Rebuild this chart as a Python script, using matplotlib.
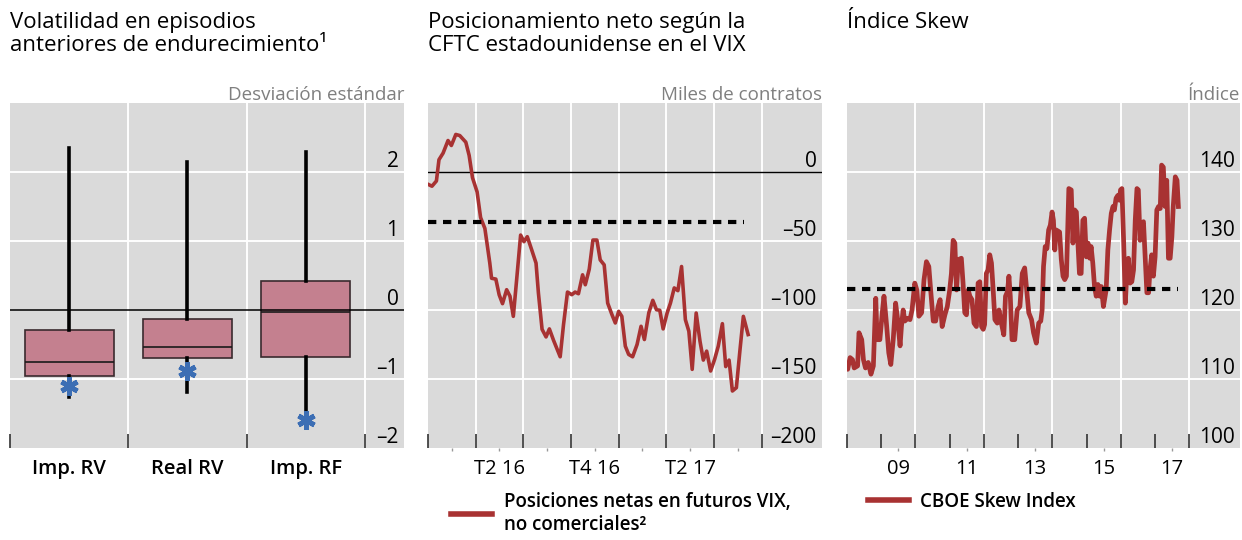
import numpy as np
import matplotlib
matplotlib.use('Agg')
import matplotlib.pyplot as plt

plt.rcParams['font.family'] = ['Open Sans', 'DejaVu Sans']

# ---------------------------------------------------------------
# Data
# Panel 1: distribution of volatility in earlier tightening episodes
categories = ['Imp. RV', 'Real RV', 'Imp. RF']
whis_low = [-1.26, -1.19, -1.55]
q1 = [-0.96, -0.70, -0.68]
median = [-0.76, -0.54, -0.03]
q3 = [-0.29, -0.13, 0.42]
whis_high = [2.35, 2.14, 2.29]
current = [-1.10, -0.89, -1.59]

# Panel 2: CFTC net positions in VIX futures (months since Jan 2016, thousands)
vix_month = [0.0, 0.25, 0.53, 0.69, 0.95, 1.26, 1.47, 1.75, 2.0, 2.38, 2.59, 2.8,
             3.09, 3.31, 3.58, 3.89, 4.0, 4.27, 4.48, 4.69, 4.95, 5.16, 5.37, 5.58,
             5.83, 6.04, 6.25, 6.53, 6.8, 6.95, 7.18, 7.43, 7.64, 7.9, 8.32, 8.53,
             8.78, 9.05, 9.26, 9.47, 9.73, 9.9, 10.15, 10.38, 10.63, 10.84, 11.09,
             11.31, 11.58, 11.79, 12.0, 12.2, 12.42, 12.63, 12.88, 13.16, 13.41,
             13.62, 13.9, 14.15, 14.38, 14.59, 14.8, 15.05, 15.26, 15.5, 15.73,
             15.96, 16.2, 16.42, 16.63, 16.88, 17.12, 17.33, 17.54, 17.79, 18.04,
             18.27, 18.53, 18.74, 18.95, 19.16, 19.41, 19.64, 19.85, 20.15]
vix_net = [-8.9, -10.3, -6.5, 8.9, 13.7, 22.8, 19.2, 27.2, 26.4, 21.6, 12.0, -4.1,
           -14.4, -33.0, -40.9, -66.0, -77.0, -77.6, -89.0, -95.4, -85.3, -90.0,
           -104.6, -78.0, -45.7, -50.5, -46.9, -56.5, -66.0, -87.7, -114.0, -119.5,
           -113.7, -121.9, -133.9, -110.6, -87.0, -88.9, -87.0, -88.2, -74.5, -81.7,
           -70.4, -49.3, -49.3, -63.7, -67.3, -95.0, -103.4, -109.4, -101.0, -104.6,
           -126.2, -132.2, -133.9, -125.0, -111.8, -121.4, -102.0, -93.0, -99.8,
           -100.2, -113.7, -102.2, -95.0, -84.0, -86.0, -68.5, -107.0, -115.4,
           -143.0, -102.2, -122.6, -136.3, -129.8, -144.2, -135.8, -126.2, -109.9,
           -141.0, -136.3, -158.7, -156.3, -128.6, -104.6, -117.8]
vix_avg = -36

# Panel 3: CBOE Skew index
skew_year = [2008.00, 2008.02, 2008.09, 2008.16, 2008.21, 2008.31, 2008.35, 2008.43,
             2008.48, 2008.54, 2008.62, 2008.70, 2008.77, 2008.84, 2008.88, 2008.96,
             2009.03, 2009.08, 2009.16, 2009.22, 2009.28, 2009.35, 2009.42, 2009.48,
             2009.55, 2009.59, 2009.64, 2009.69, 2009.77, 2009.84, 2009.90, 2009.98,
             2010.04, 2010.10, 2010.18, 2010.25, 2010.32, 2010.39, 2010.45, 2010.52,
             2010.59, 2010.66, 2010.72, 2010.78, 2010.86, 2010.93, 2011.00, 2011.05,
             2011.10, 2011.15, 2011.20, 2011.25, 2011.34, 2011.39, 2011.44, 2011.49,
             2011.54, 2011.59, 2011.65, 2011.71, 2011.78, 2011.83, 2011.88, 2011.93,
             2011.98, 2012.02, 2012.07, 2012.12, 2012.17, 2012.22, 2012.27, 2012.32,
             2012.39, 2012.44, 2012.51, 2012.58, 2012.63, 2012.69, 2012.73, 2012.77,
             2012.82, 2012.90, 2012.97, 2013.05, 2013.12, 2013.19, 2013.24, 2013.31,
             2013.39, 2013.45, 2013.53, 2013.60, 2013.66, 2013.70, 2013.74, 2013.79,
             2013.84, 2013.89, 2013.94, 2013.99, 2014.03, 2014.07, 2014.11, 2014.21,
             2014.26, 2014.31, 2014.36, 2014.41, 2014.45, 2014.48, 2014.55, 2014.60,
             2014.65, 2014.70, 2014.74, 2014.79, 2014.84, 2014.89, 2014.94, 2014.99,
             2015.04, 2015.09, 2015.13, 2015.18, 2015.23, 2015.28, 2015.33, 2015.38,
             2015.43, 2015.49, 2015.57, 2015.62, 2015.67, 2015.72, 2015.77, 2015.81,
             2015.86, 2015.91, 2015.96, 2015.99, 2016.03, 2016.08, 2016.13, 2016.17,
             2016.22, 2016.27, 2016.32, 2016.37, 2016.42, 2016.47, 2016.51, 2016.56,
             2016.61, 2016.66, 2016.71, 2016.76, 2016.81, 2016.85, 2016.90, 2016.95,
             2017.00, 2017.05, 2017.10, 2017.15, 2017.19, 2017.24, 2017.29, 2017.34,
             2017.39, 2017.44, 2017.49, 2017.53, 2017.59, 2017.64, 2017.68]
skew_val = [111.6, 111.4, 113.1, 112.8, 111.6, 111.9, 116.7, 115.7, 112.8, 111.6,
            112.4, 110.7, 111.9, 121.7, 115.7, 115.7, 119.6, 122.0, 117.6, 113.8,
            112.1, 115.7, 121.0, 118.6, 114.8, 117.6, 120.0, 118.4, 118.8, 118.6,
            120.0, 123.9, 122.9, 119.1, 119.6, 124.4, 127.0, 126.3, 122.5, 118.4,
            118.4, 120.5, 121.5, 117.6, 119.3, 120.5, 122.9, 125.3, 130.1, 129.7,
            122.9, 127.3, 127.5, 123.9, 119.6, 119.3, 122.9, 122.0, 121.5, 118.1,
            117.6, 123.9, 124.1, 117.6, 117.2, 117.9, 125.3, 125.8, 128.0, 126.8,
            122.9, 118.6, 118.1, 120.0, 118.1, 116.4, 122.0, 122.7, 124.9, 122.0,
            115.7, 115.7, 120.0, 120.5, 125.3, 126.1, 123.4, 119.6, 118.6, 116.7,
            115.2, 118.1, 118.4, 120.0, 126.3, 129.2, 128.9, 131.6, 132.3, 134.2,
            133.0, 128.7, 131.6, 131.3, 127.3, 124.9, 124.4, 124.9, 132.5, 137.6,
            137.4, 129.7, 134.5, 134.2, 130.1, 125.3, 125.3, 133.0, 133.3, 127.7,
            129.7, 127.5, 129.2, 126.8, 123.4, 122.0, 123.7, 122.0, 123.4, 120.5,
            122.9, 128.7, 131.6, 134.0, 135.0, 134.5, 136.2, 136.6, 135.9, 137.4,
            137.6, 130.1, 121.0, 124.9, 127.5, 123.9, 124.1, 125.8, 133.0, 137.6,
            137.4, 130.1, 132.5, 132.8, 127.7, 122.5, 122.5, 125.8, 128.0, 124.9,
            127.7, 134.5, 135.0, 134.7, 141.0, 140.7, 135.0, 138.8, 127.5, 127.5,
            130.6, 135.0, 139.3, 138.8, 135.0]
skew_avg = 123.0

# ---------------------------------------------------------------
RED = '#A83232'
BG = '#DADADA'
GREY_TXT = '#7F7F7F'
W, H = 1242, 540

fig = plt.figure(figsize=(W / 100, H / 100), dpi=100)


def add_panel(x0, x1):
    ax = fig.add_axes([x0 / W, 1 - 448 / H, (x1 - x0) / W, 345 / H])
    ax.set_facecolor(BG)
    for s in ax.spines.values():
        s.set_visible(False)
    ax.yaxis.tick_right()
    ax.tick_params(axis='y', length=0, pad=-4, labelsize=15, labelcolor='black')
    ax.tick_params(axis='x', which='major', direction='in', length=10, width=1.2,
                   color='#333333', labelbottom=False)
    ax.tick_params(axis='x', which='minor', direction='out', length=2, width=1,
                   color='#999999', labelsize=14.5, pad=6)
    return ax


def finish_yticks(ax):
    for lbl in ax.get_yticklabels():
        lbl.set_ha('right')
        lbl.set_va('bottom')


def grid(ax, xs, ys):
    for x in xs:
        ax.axvline(x, color='white', lw=1.4, zorder=0.5)
    for y in ys:
        ax.axhline(y, color='white', lw=1.4, zorder=0.5)


def header(x0, x1, title, unit):
    fig.text(x0 / W, 1 - 12 / H, title, ha='left', va='top', fontsize=16,
             linespacing=1.1)
    fig.text(x1 / W, 1 - 100 / H, unit, ha='right', va='baseline', fontsize=13.5,
             color=GREY_TXT)


def add_legend(ax, x0):
    leg = ax.legend(loc='upper left', bbox_to_anchor=(x0 / W, 1 - 492 / H),
                    bbox_transform=fig.transFigure, frameon=False, handlelength=2.2,
                    handletextpad=0.6, borderpad=0, borderaxespad=0,
                    prop=dict(size=13.5, weight='semibold'))
    for h in leg.legend_handles:
        h.set_linewidth(4)


# Panel 1 --------------------------------------------------------
ax1 = add_panel(10, 404)
pos = np.arange(len(categories))
stats = [dict(label=c, whislo=a, q1=b, med=m, q3=d, whishi=e, fliers=[])
         for c, a, b, m, d, e in zip(categories, whis_low, q1, median, q3, whis_high)]
ax1.bxp(stats, positions=pos, widths=0.75, patch_artist=True, showcaps=False,
        boxprops=dict(facecolor='#C4808F', edgecolor='#3a2a2e', lw=1.2),
        medianprops=dict(color='#1a1a1a', lw=1.2),
        whiskerprops=dict(color='black', lw=2.6), manage_ticks=False, zorder=2)
ax1.plot(pos, current, ls='none', marker=(6, 2, 0), ms=13, mew=3.5,
         color='#3C6EB4', zorder=4)
ax1.axhline(0, color='black', lw=1.1, zorder=3)
grid(ax1, [0.5, 1.5, 2.5], [-1, 1, 2])
ax1.set_xlim(-0.5, 2.83)
ax1.set_ylim(-2, 3)
ax1.set_yticks([-2, -1, 0, 1, 2])
ax1.set_yticklabels(['\u20132', '\u20131', '0', '1', '2'])
ax1.set_xticks([-0.5, 0.5, 1.5, 2.5])
ax1.set_xticks(pos, minor=True)
ax1.set_xticklabels(categories, minor=True, fontweight='semibold')
ax1.tick_params(axis='x', which='minor', length=0, pad=8)
finish_yticks(ax1)
header(10, 404, 'Volatilidad en episodios\nanteriores de endurecimiento\u00b9',
       'Desviaci\u00f3n est\u00e1ndar')

# Panel 2 --------------------------------------------------------
ax2 = add_panel(428, 822)
ax2.plot(vix_month, vix_net, color=RED, lw=2.6, zorder=2,
         label='Posiciones netas en futuros VIX,\nno comerciales\u00b2')
ax2.plot([vix_month[0], 19.9], [vix_avg, vix_avg], color='black', lw=3,
         dashes=(2, 1.6), zorder=3)
ax2.axhline(0, color='black', lw=1.0, zorder=1)
grid(ax2, [3, 6, 9, 12, 15, 18, 21], [-150, -100, -50])
ax2.set_xlim(0, 24.8)
ax2.set_ylim(-200, 50)
ax2.set_yticks([-200, -150, -100, -50, 0])
ax2.set_yticklabels(['\u2013200', '\u2013150', '\u2013100', '\u201350', '0'])
ax2.set_xticks([0, 3, 6, 9, 12, 15, 18, 21])
ax2.set_xticks([1.5, 4.5, 7.5, 10.5, 13.5, 16.5, 19.5], minor=True)
ax2.set_xticklabels(['', 'T2 16', '', 'T4 16', '', 'T2 17', ''], minor=True)
finish_yticks(ax2)
header(428, 822, 'Posicionamiento neto seg\u00fan la\nCFTC estadounidense en el VIX',
       'Miles de contratos')
add_legend(ax2, 451)

# Panel 3 --------------------------------------------------------
ax3 = add_panel(847, 1240)
ax3.plot(skew_year, skew_val, color=RED, lw=3.4, zorder=2, label='CBOE Skew Index')
ax3.plot([skew_year[0], skew_year[-1]], [skew_avg, skew_avg], color='black', lw=3,
         dashes=(2, 1.6), zorder=3)
grid(ax3, [2010, 2012, 2014, 2016, 2018], [110, 120, 130, 140])
ax3.set_xlim(2008, 2019.48)
ax3.set_ylim(100, 150)
ax3.set_yticks([100, 110, 120, 130, 140])
ax3.set_xticks(np.arange(2008, 2019))
ax3.set_xticks([2009.5, 2011.5, 2013.5, 2015.5, 2017.5], minor=True)
ax3.set_xticklabels(['09', '11', '13', '15', '17'], minor=True)
finish_yticks(ax3)
header(847, 1240, '\u00cdndice Skew', '\u00cdndice')
add_legend(ax3, 868)

fig.savefig('out.png', dpi=100)
